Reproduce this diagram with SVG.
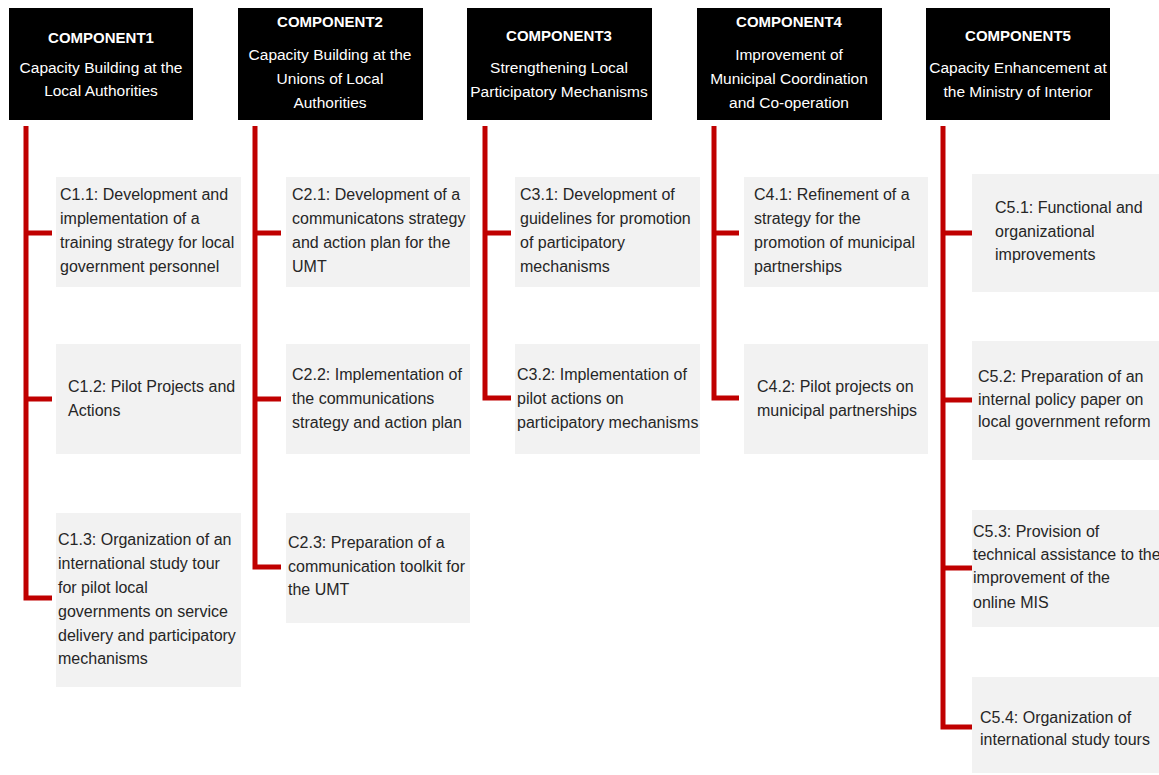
<svg xmlns="http://www.w3.org/2000/svg" width="1159" height="775" viewBox="0 0 1159 775">
<style>
.hdr{fill:#000}
.ht{fill:#fff;font-family:"Liberation Sans",Arial,sans-serif;font-size:15.5px;text-anchor:middle}
.hb{font-weight:bold;font-size:15px}
.box{fill:#f2f2f2}
.bt{fill:#262626;font-family:"Liberation Sans",Arial,sans-serif;font-size:16px}
.con{fill:none;stroke:#c00000;stroke-width:5;stroke-linejoin:miter}
</style>
<rect width="1159" height="775" fill="#fff"/>
<g id="connectors">
<path class="con" d="M26,126 V598 H52 M26,233 H52 M26,399 H52"/>
<path class="con" d="M255,126 V567 H281 M255,233 H281 M255,399 H281"/>
<path class="con" d="M485,126 V398 H511 M485,233 H511"/>
<path class="con" d="M714,126 V398 H739 M714,233 H739"/>
<path class="con" d="M943,126 V727 H972 M943,233 H972 M943,400 H972 M943,568 H972"/>
</g>
<g id="component1">
<rect class="hdr" x="9" y="8" width="184" height="112"/>
<text class="ht hb" x="101" y="43">COMPONENT1</text>
<text class="ht" x="101" y="73">Capacity Building at the</text>
<text class="ht" x="101" y="96">Local Authorities</text>
</g>
<g id="component2">
<rect class="hdr" x="238" y="8" width="185" height="112"/>
<text class="ht hb" x="330" y="27">COMPONENT2</text>
<text class="ht" x="330" y="60">Capacity Building at the</text>
<text class="ht" x="330" y="84">Unions of Local</text>
<text class="ht" x="330" y="108">Authorities</text>
</g>
<g id="component3">
<rect class="hdr" x="467" y="8" width="185" height="112"/>
<text class="ht hb" x="559" y="41">COMPONENT3</text>
<text class="ht" x="559" y="73">Strengthening Local</text>
<text class="ht" x="559" y="97">Participatory Mechanisms</text>
</g>
<g id="component4">
<rect class="hdr" x="697" y="8" width="185" height="112"/>
<text class="ht hb" x="789" y="27">COMPONENT4</text>
<text class="ht" x="789" y="60">Improvement of</text>
<text class="ht" x="789" y="84">Municipal Coordination</text>
<text class="ht" x="789" y="108">and Co-operation</text>
</g>
<g id="component5">
<rect class="hdr" x="926" y="8" width="184" height="112"/>
<text class="ht hb" x="1018" y="41">COMPONENT5</text>
<text class="ht" x="1018" y="73">Capacity Enhancement at</text>
<text class="ht" x="1018" y="97">the Ministry of Interior</text>
</g>
<g id="c1-1">
<rect class="box" x="56" y="177" width="185" height="110"/>
<text class="bt" x="60" y="200">C1.1: Development and</text>
<text class="bt" x="60" y="224">implementation of a</text>
<text class="bt" x="60" y="248">training strategy for local</text>
<text class="bt" x="60" y="272">government personnel</text>
</g>
<g id="c1-2">
<rect class="box" x="56" y="344" width="185" height="110"/>
<text class="bt" x="68" y="392">C1.2: Pilot Projects and</text>
<text class="bt" x="68" y="416">Actions</text>
</g>
<g id="c1-3">
<rect class="box" x="56" y="513" width="185" height="174"/>
<text class="bt" x="58" y="545">C1.3: Organization of an</text>
<text class="bt" x="58" y="569">international study tour</text>
<text class="bt" x="58" y="593">for pilot local</text>
<text class="bt" x="58" y="617">governments on service</text>
<text class="bt" x="58" y="641">delivery and participatory</text>
<text class="bt" x="58" y="664">mechanisms</text>
</g>
<g id="c2-1">
<rect class="box" x="286" y="177" width="184" height="110"/>
<text class="bt" x="292" y="200">C2.1: Development of a</text>
<text class="bt" x="292" y="224">communicatons strategy</text>
<text class="bt" x="292" y="248">and action plan for the</text>
<text class="bt" x="292" y="272">UMT</text>
</g>
<g id="c2-2">
<rect class="box" x="286" y="344" width="184" height="110"/>
<text class="bt" x="292" y="380">C2.2: Implementation of</text>
<text class="bt" x="292" y="404">the communications</text>
<text class="bt" x="292" y="428">strategy and action plan</text>
</g>
<g id="c2-3">
<rect class="box" x="286" y="513" width="184" height="110"/>
<text class="bt" x="288" y="548">C2.3: Preparation of a</text>
<text class="bt" x="288" y="572">communication toolkit for</text>
<text class="bt" x="288" y="595">the UMT</text>
</g>
<g id="c3-1">
<rect class="box" x="515" y="177" width="185" height="110"/>
<text class="bt" x="520" y="200">C3.1: Development of</text>
<text class="bt" x="520" y="224">guidelines for promotion</text>
<text class="bt" x="520" y="248">of participatory</text>
<text class="bt" x="520" y="272">mechanisms</text>
</g>
<g id="c3-2">
<rect class="box" x="515" y="344" width="185" height="110"/>
<text class="bt" x="517" y="380">C3.2: Implementation of</text>
<text class="bt" x="517" y="404">pilot actions on</text>
<text class="bt" x="517" y="428">participatory mechanisms</text>
</g>
<g id="c4-1">
<rect class="box" x="744" y="177" width="184" height="110"/>
<text class="bt" x="754" y="200">C4.1: Refinement of a</text>
<text class="bt" x="754" y="224">strategy for the</text>
<text class="bt" x="754" y="248">promotion of municipal</text>
<text class="bt" x="754" y="272">partnerships</text>
</g>
<g id="c4-2">
<rect class="box" x="744" y="344" width="184" height="110"/>
<text class="bt" x="757" y="392">C4.2:  Pilot projects on</text>
<text class="bt" x="757" y="416">municipal partnerships</text>
</g>
<g id="c5-1">
<rect class="box" x="972" y="174" width="187" height="118"/>
<text class="bt" x="995" y="213">C5.1: Functional and</text>
<text class="bt" x="995" y="237">organizational</text>
<text class="bt" x="995" y="260">improvements</text>
</g>
<g id="c5-2">
<rect class="box" x="972" y="341" width="187" height="119"/>
<text class="bt" x="978" y="382">C5.2: Preparation of an</text>
<text class="bt" x="978" y="405">internal policy paper on</text>
<text class="bt" x="978" y="427">local government reform</text>
</g>
<g id="c5-3">
<rect class="box" x="972" y="510" width="187" height="117"/>
<text class="bt" x="973" y="537">C5.3: Provision of</text>
<text class="bt" x="973" y="560">technical assistance to the</text>
<text class="bt" x="973" y="583">improvement of the</text>
<text class="bt" x="973" y="608">online MIS</text>
</g>
<g id="c5-4">
<rect class="box" x="972" y="677" width="187" height="96"/>
<text class="bt" x="980" y="723">C5.4: Organization of</text>
<text class="bt" x="980" y="745">international study tours</text>
</g>
</svg>
